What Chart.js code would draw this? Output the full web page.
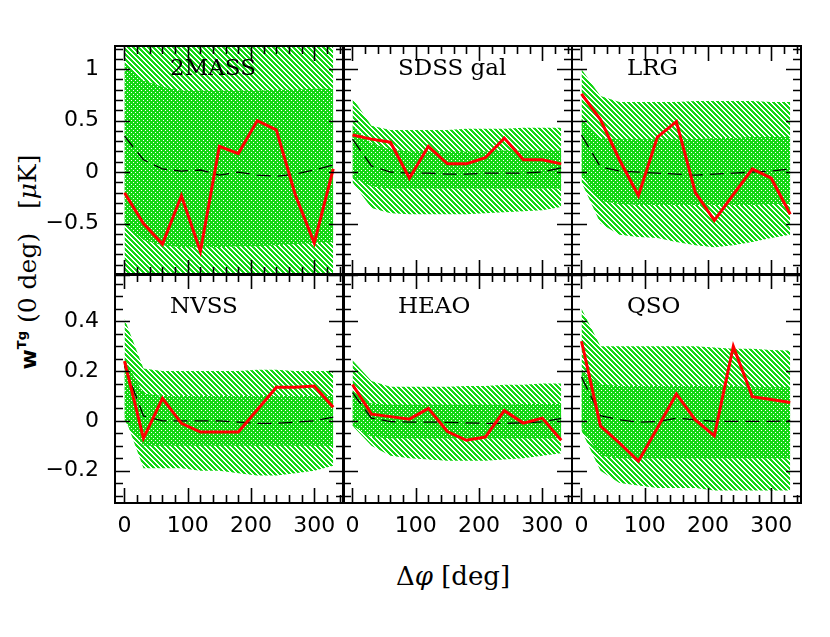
<!DOCTYPE html>
<html>
<head>
<meta charset="utf-8">
<script src="https://cdn.jsdelivr.net/npm/chart.js@4.4.1/dist/chart.umd.min.js"></script>
<style>
  body { margin: 0; background: #fff; }
  #wrap { position: relative; width: 830px; height: 637px; overflow: hidden; }
  #wrap canvas { position: absolute; }
  .ylab { position: absolute; left: 27px; top: 262px; transform: translate(-50%, -50%) rotate(-90deg);
          white-space: nowrap; font: 25px "DejaVu Serif"; line-height: 1; }
  .ylab b { font-family: "DejaVu Sans"; font-size: 22px; }
  .ylab sup { font: bold 13px "DejaVu Sans"; }
  .xlab { position: absolute; left: 453px; top: 576px; transform: translate(-50%, -50%);
          white-space: nowrap; font: 26px "DejaVu Serif"; }
</style>
</head>
<body>
<div id="wrap">
  <div class="ylab"><b>w</b><sup>Tg</sup> (0 deg) &nbsp;&nbsp;[<i>μ</i>K]</div>
  <div class="xlab">Δ<i>φ</i> [deg]</div>
</div>
<script>
const phi = [0, 30, 60, 90, 120, 150, 180, 210, 240, 270, 300, 330];
const surveys = ['2MASS', 'SDSS gal', 'LRG', 'NVSS', 'HEAO', 'QSO'];
const xTicks = [0, 100, 200, 300];
const yTicksTop = [1, 0.5, 0, -0.5];
const yTicksBottom = [0.4, 0.2, 0, -0.2];

// measured w^Tg (red)
const w2MASS = [-0.20, -0.50, -0.70, -0.23, -0.77, 0.25, 0.18, 0.50, 0.41, -0.22, -0.69, 0.03];
const wSDSS  = [0.36, 0.32, 0.29, -0.06, 0.25, 0.08, 0.08, 0.14, 0.33, 0.12, 0.12, 0.08];
const wLRG   = [0.76, 0.51, 0.12, -0.23, 0.34, 0.49, -0.20, -0.47, -0.22, 0.03, -0.06, -0.41];
const wNVSS  = [0.24, -0.07, 0.09, -0.01, -0.045, -0.045, -0.045, 0.045, 0.135, 0.135, 0.14, 0.055];
const wHEAO  = [0.146, 0.027, 0.017, 0.007, 0.05, -0.043, -0.078, -0.065, 0.041, -0.009, 0.011, -0.078];
const wQSO   = [0.32, -0.02, -0.089, -0.162, -0.029, 0.108, 0.004, -0.06, 0.299, 0.097, 0.086, 0.074];

// model (dashed)
const m2MASS = [0.35, 0.12, 0.03, 0.01, 0.02, -0.03, 0.0, -0.03, -0.04, -0.02, 0.02, 0.07];
const mSDSS  = [0.32, 0.06, 0.0, -0.01, -0.01, -0.02, -0.02, -0.01, -0.01, -0.01, 0.0, 0.04];
const mLRG   = [0.36, 0.05, 0.01, 0.0, -0.01, -0.02, -0.03, -0.02, -0.01, 0.0, 0.01, 0.03];
const mNVSS  = [0.22, 0.02, 0.0, 0.0, 0.0, 0.0, -0.005, -0.01, -0.01, -0.005, 0.0, 0.015];
const mHEAO  = [0.113, 0.011, -0.003, -0.005, -0.005, -0.006, -0.008, -0.01, -0.01, -0.008, -0.004, 0.01];
const mQSO   = [0.176, 0.021, 0.004, -0.005, -0.003, 0.011, 0.004, -0.002, -0.002, -0.002, -0.002, 0.0];

// 1 sigma band (dotted)
const hi1_2MASS = [1.05, 0.89, 0.83, 0.79, 0.79, 0.79, 0.79, 0.79, 0.80, 0.80, 0.81, 0.81];
const lo1_2MASS = [-0.50, -0.66, -0.71, -0.73, -0.73, -0.73, -0.72, -0.72, -0.71, -0.70, -0.69, -0.68];
const hi1_SDSS  = [0.45, 0.28, 0.22, 0.20, 0.20, 0.20, 0.20, 0.20, 0.21, 0.21, 0.21, 0.21];
const lo1_SDSS  = [-0.05, -0.14, -0.16, -0.16, -0.16, -0.16, -0.16, -0.16, -0.16, -0.16, -0.16, -0.16];
const hi1_LRG   = [0.52, 0.33, 0.32, 0.32, 0.32, 0.32, 0.32, 0.33, 0.33, 0.34, 0.34, 0.34];
const lo1_LRG   = [-0.03, -0.28, -0.31, -0.32, -0.32, -0.32, -0.32, -0.32, -0.32, -0.32, -0.31, -0.31];
const hi1_NVSS  = [0.25, 0.11, 0.10, 0.10, 0.10, 0.10, 0.10, 0.10, 0.10, 0.10, 0.10, 0.10];
const lo1_NVSS  = [0.0, -0.10, -0.10, -0.10, -0.10, -0.10, -0.10, -0.10, -0.10, -0.10, -0.10, -0.10];
const hi1_HEAO  = [0.12, 0.07, 0.065, 0.065, 0.065, 0.065, 0.065, 0.065, 0.065, 0.068, 0.068, 0.068];
const lo1_HEAO  = [-0.02, -0.065, -0.07, -0.07, -0.07, -0.07, -0.07, -0.07, -0.07, -0.07, -0.07, -0.07];
const hi1_QSO   = [0.20, 0.145, 0.14, 0.14, 0.14, 0.14, 0.14, 0.14, 0.14, 0.135, 0.135, 0.135];
const lo1_QSO   = [-0.03, -0.14, -0.15, -0.15, -0.15, -0.15, -0.15, -0.15, -0.15, -0.15, -0.15, -0.15];

// 2 sigma band (hatched)
const hi2_2MASS = [1.60, 1.45, 1.40, 1.38, 1.38, 1.38, 1.38, 1.38, 1.39, 1.40, 1.40, 1.40];
const lo2_2MASS = [-1.20, -1.30, -1.35, -1.36, -1.36, -1.36, -1.36, -1.36, -1.35, -1.34, -1.33, -1.32];
const hi2_SDSS  = [0.72, 0.45, 0.41, 0.41, 0.41, 0.41, 0.42, 0.42, 0.42, 0.43, 0.43, 0.43];
const lo2_SDSS  = [-0.10, -0.35, -0.40, -0.41, -0.41, -0.41, -0.41, -0.40, -0.39, -0.38, -0.37, -0.34];
const hi2_LRG   = [1.00, 0.74, 0.68, 0.68, 0.68, 0.68, 0.69, 0.69, 0.69, 0.69, 0.68, 0.68];
const lo2_LRG   = [-0.10, -0.50, -0.61, -0.63, -0.64, -0.68, -0.71, -0.73, -0.71, -0.68, -0.64, -0.61];
const hi2_NVSS  = [0.41, 0.21, 0.20, 0.20, 0.20, 0.20, 0.20, 0.205, 0.205, 0.20, 0.20, 0.20];
const lo2_NVSS  = [0.02, -0.19, -0.19, -0.19, -0.20, -0.20, -0.21, -0.22, -0.22, -0.21, -0.20, -0.18];
const hi2_HEAO  = [0.243, 0.16, 0.137, 0.137, 0.137, 0.137, 0.14, 0.14, 0.145, 0.145, 0.15, 0.15];
const lo2_HEAO  = [-0.02, -0.10, -0.14, -0.15, -0.155, -0.16, -0.16, -0.16, -0.155, -0.15, -0.14, -0.13];
const hi2_QSO   = [0.45, 0.30, 0.30, 0.30, 0.30, 0.30, 0.30, 0.295, 0.29, 0.29, 0.285, 0.283];
const lo2_QSO   = [-0.04, -0.20, -0.25, -0.26, -0.27, -0.27, -0.27, -0.28, -0.28, -0.28, -0.28, -0.28];

const measured = [w2MASS, wSDSS, wLRG, wNVSS, wHEAO, wQSO];
const model = [m2MASS, mSDSS, mLRG, mNVSS, mHEAO, mQSO];
const hi1 = [hi1_2MASS, hi1_SDSS, hi1_LRG, hi1_NVSS, hi1_HEAO, hi1_QSO];
const lo1 = [lo1_2MASS, lo1_SDSS, lo1_LRG, lo1_NVSS, lo1_HEAO, lo1_QSO];
const hi2 = [hi2_2MASS, hi2_SDSS, hi2_LRG, hi2_NVSS, hi2_HEAO, hi2_QSO];
const lo2 = [lo2_2MASS, lo2_SDSS, lo2_LRG, lo2_NVSS, lo2_HEAO, lo2_QSO];

const GREEN = [20, 215, 20];

// pixel tile pattern, shifted so every panel lines up with the same page grid
function makePattern(size, isGreen, dx, dy) {
	const c = document.createElement('canvas');
	c.width = c.height = size;
	const g = c.getContext('2d');
	const img = g.createImageData(size, size);
	for (let y = 0; y < size; y++) {
		for (let x = 0; x < size; x++) {
			const i = (y * size + x) * 4;
			const on = isGreen(x, y);
			img.data[i] = on ? GREEN[0] : 255;
			img.data[i + 1] = on ? GREEN[1] : 255;
			img.data[i + 2] = on ? GREEN[2] : 255;
			img.data[i + 3] = 255;
		}
	}
	g.putImageData(img, 0, 0);
	const p = g.createPattern(c, 'repeat');
	p.setTransform(new DOMMatrix([1, 0, 0, 1, -dx, -dy]));
	return p;
}
const stripes = (x, y) => ((x - y) % 5 + 5) % 5 < 3;
const dotted = (x, y) => !((x === 0 && y === 0) || (x === 2 && y === 2));

const frame = {
	id: 'frame',
	afterDatasetsDraw(chart, args, o) {
		const { ctx, chartArea: a } = chart;
		const xs = chart.scales.x, ys = chart.scales.y;
		ctx.save();
		ctx.strokeStyle = '#000';
		ctx.lineWidth = 1.6;
		ctx.beginPath();
		for (let k = Math.ceil(xs.min / 20); k * 20 <= xs.max; k++) {
			const p = Math.round(xs.getPixelForValue(k * 20)) + 0.5;
			const len = k % 5 === 0 ? 15 : 8;
			ctx.moveTo(p, a.bottom); ctx.lineTo(p, a.bottom - len);
			ctx.moveTo(p, a.top); ctx.lineTo(p, a.top + len);
		}
		for (let k = Math.ceil(ys.min / o.minor - 1e-6); k * o.minor <= ys.max + 1e-9; k++) {
			const p = Math.round(ys.getPixelForValue(k * o.minor)) + 0.5;
			const len = k % o.ratio === 0 ? 15 : 8;
			ctx.moveTo(a.left, p); ctx.lineTo(a.left + len, p);
			ctx.moveTo(a.right, p); ctx.lineTo(a.right - len, p);
		}
		ctx.stroke();
		ctx.lineWidth = 2;
		ctx.strokeRect(a.left, a.top, a.right - a.left, a.bottom - a.top);
		ctx.fillStyle = '#000';
		ctx.font = '23px "DejaVu Serif"';
		ctx.textBaseline = 'middle';
		ctx.fillText(o.title, a.left + 55, a.top + o.dy);
		ctx.restore();
	}
};

const fmt = v => String(v).replace('-', '\u2212');
const pts = arr => phi.map((x, i) => ({ x: x, y: arr[i] }));
const clear = 'rgba(0,0,0,0)';
const noPad = s => { s.paddingTop = 0; s.paddingBottom = 0; s.paddingLeft = 0; s.paddingRight = 0; };

const wrap = document.getElementById('wrap');
const lefts = [115, 343, 572];
const tops = [46, 274];
const W = 229, H = 229;

surveys.forEach((name, i) => {
	const col = i % 3, row = Math.floor(i / 3);
	const cx = lefts[col] - 100, cy = tops[row] - 10;
	const canvas = document.createElement('canvas');
	canvas.width = 100 + W + 10;
	canvas.height = 10 + H + 50;
	canvas.style.left = cx + 'px';
	canvas.style.top = cy + 'px';
	wrap.appendChild(canvas);
	const ctx = canvas.getContext('2d');
	const hatch = makePattern(5, stripes, cx, cy);
	const dots = makePattern(4, dotted, cx - 3, cy);

	const top = row === 0;
	new Chart(ctx, {
		type: 'line',
		data: {
			datasets: [
				{ data: pts(hi2[i]), fill: '+1', backgroundColor: hatch, borderColor: clear, borderWidth: 0, pointRadius: 0, order: 3 },
				{ data: pts(lo2[i]), fill: false, borderColor: clear, borderWidth: 0, pointRadius: 0, order: 3 },
				{ data: pts(hi1[i]), fill: '+1', backgroundColor: dots, borderColor: clear, borderWidth: 0, pointRadius: 0, order: 2 },
				{ data: pts(lo1[i]), fill: false, borderColor: clear, borderWidth: 0, pointRadius: 0, order: 2 },
				{ data: pts(model[i]), fill: false, borderColor: '#000', borderWidth: 1.3, borderDash: [14, 7], pointRadius: 0, order: 1 },
				{ data: pts(measured[i]), fill: false, borderColor: '#ff0000', borderWidth: 3, pointRadius: 0, order: 0 }
			]
		},
		options: {
			responsive: false,
			animation: false,
			layout: { padding: { top: 10, right: 10, left: 0, bottom: 0 } },
			plugins: {
				legend: { display: false },
				tooltip: { enabled: false },
				frame: {
					title: name,
					dy: top ? 23 : 33,
					minor: top ? 0.1 : 0.05,
					ratio: top ? 5 : 4
				}
			},
			scales: {
				x: {
					type: 'linear',
					min: -15,
					max: 347,
					grid: { display: false, drawTicks: false },
					border: { display: false },
					afterBuildTicks: s => { s.ticks = xTicks.map(v => ({ value: v })); },
					afterFit: s => { s.height = 50; noPad(s); },
					ticks: {
						display: !top,
						padding: 10,
						maxRotation: 0,
						color: '#000',
						font: { family: 'DejaVu Sans', size: 22 },
						callback: v => fmt(v)
					}
				},
				y: {
					min: top ? -1 : -0.33,
					max: top ? 1.225 : 0.59,
					grid: { display: false, drawTicks: false },
					border: { display: false },
					afterBuildTicks: s => { s.ticks = (top ? yTicksTop : yTicksBottom).map(v => ({ value: v })); },
					afterFit: s => { s.width = 100; noPad(s); },
					ticks: {
						display: col === 0,
						padding: 16,
						color: '#000',
						font: { family: 'DejaVu Sans', size: 22 },
						callback: v => fmt(v)
					}
				}
			}
		},
		plugins: [frame]
	});
});
</script>
</body>
</html>
